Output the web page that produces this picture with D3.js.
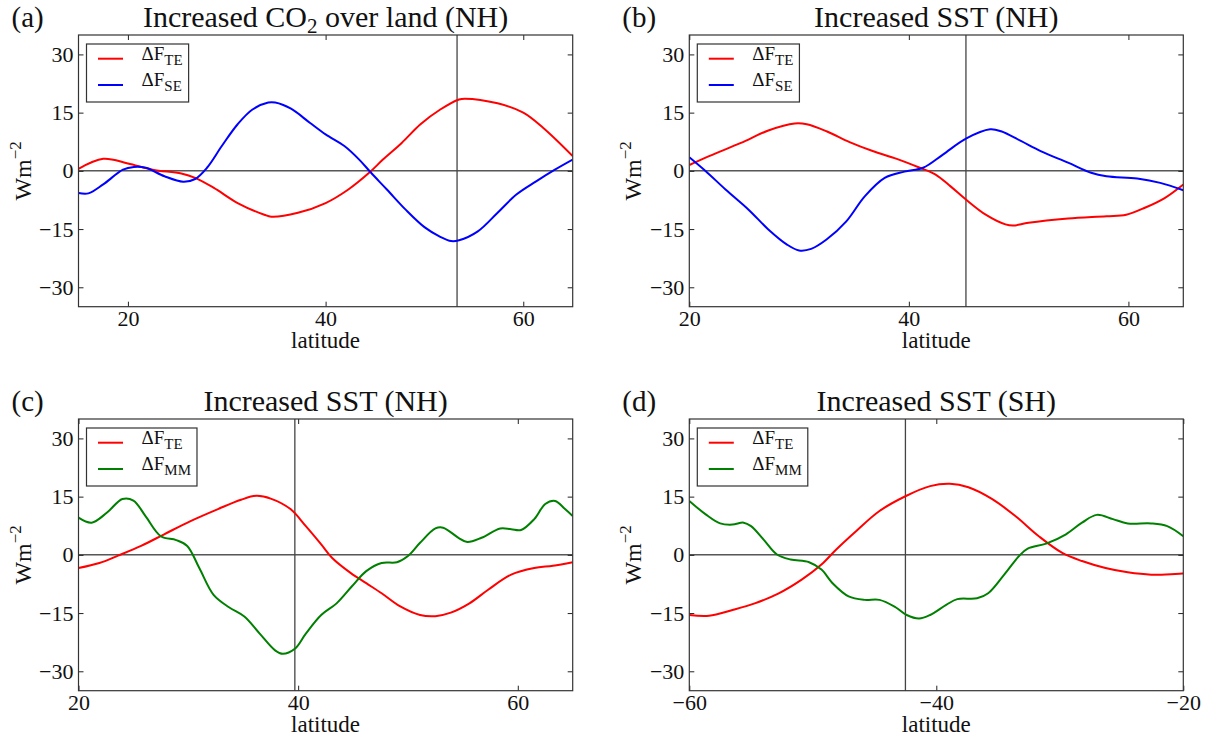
<!DOCTYPE html>
<html>
<head>
<meta charset="utf-8">
<script src="https://cdn.jsdelivr.net/npm/d3@7/dist/d3.min.js"></script>
<style>
  html, body { margin: 0; padding: 0; background: #fff; }
  svg { display: block; }
  svg text { font-family: "Liberation Serif", "DejaVu Serif", serif !important; fill: #111; }
</style>
</head>
<body>
<svg id="chart" width="1211" height="738"></svg>
<script>
// ---- data: [latitude, W m^-2] ----
const aTE = [[15,0.5],[17.5,3.1],[20,1.9],[22.5,0.3],[25.4,-0.7],[26.8,-1.8],[28.7,-4.4],[31.1,-8.3],[33.8,-11.3],[34.5,-11.8],[37.2,-10.8],[40,-8.3],[42.3,-4.8],[44.4,-0.5],[45.8,2.9],[47.7,7.2],[49.6,12],[51.6,15.8],[53.5,18.4],[54.1,18.6],[57.4,17.4],[60,15],[62,11.1],[65,3.8]];
const aSE = [[15,-5.7],[16,-5.8],[17.5,-3.5],[19.5,0.3],[20.6,1],[21.8,0.8],[23.7,-1.4],[25.6,-2.8],[26.8,-2.1],[28,0.8],[29.5,6.4],[31.1,12],[32.6,15.8],[34.2,17.6],[34.9,17.6],[36.5,16],[38.4,12.4],[40,9.4],[41.9,6.4],[43.4,2.9],[44.6,-0.5],[46.2,-4.8],[48.1,-10],[50,-14.5],[51.6,-17],[52.7,-18.1],[53.5,-17.9],[55.4,-15.6],[57.4,-10.8],[59.3,-6.1],[61.3,-2.7],[63.2,0.3],[65,2.9]];

const bTE = [[20,1.5],[21.8,3.8],[24.7,7.2],[27.2,10.4],[29.6,12.2],[30.7,12],[32.5,10.2],[34.6,7.4],[36.7,5.1],[38.9,3.1],[41,0.8],[42.4,-0.9],[43.8,-4],[45.2,-7.4],[47,-11.3],[48.8,-13.8],[49.5,-14.1],[50.9,-13.4],[54.5,-12.3],[58,-11.7],[59.8,-11.3],[61.5,-9.5],[63.3,-7],[65,-3.5]];
const bSE = [[20,3.5],[21.5,-0.1],[23.3,-4.8],[25.4,-10],[27.2,-15.1],[28.9,-19],[30,-20.5],[31.1,-20.1],[32.5,-17.7],[34.3,-13],[36,-6.5],[37.8,-1.8],[39.6,-0.2],[41.3,0.8],[43.1,4.2],[45.2,8.3],[47.4,10.7],[48.4,10.2],[50.2,7.7],[52,5.1],[54.5,2.1],[56.6,-0.5],[58,-1.4],[60.8,-2],[62.9,-3.1],[65,-5]];

const cTE = [[20,-3.4],[21.9,-2.1],[23.6,-0.2],[25.7,2.3],[27.8,5.3],[30.2,8.7],[32.7,11.8],[34.8,14.2],[36.2,15.2],[37.5,14.5],[39.3,11.8],[40.7,7.4],[42.1,2.7],[43.1,-0.8],[44.8,-4.7],[46.2,-7.3],[47.6,-9.9],[49.3,-13.3],[51.1,-15.5],[52.5,-15.8],[53.9,-14.9],[55.6,-12.5],[57.3,-9],[59.4,-5.1],[61.5,-3.4],[63.2,-2.8],[65,-1.9]];
const cMM = [[20,9.6],[21.2,8.3],[22.6,10.9],[24,14.4],[25,14],[26.1,10],[27.5,4.8],[28.9,3.8],[29.9,2.3],[31,-3.4],[32.3,-10.3],[33.7,-13.5],[35.1,-15.9],[36.5,-20.3],[37.9,-24.6],[38.6,-25.5],[39.7,-24.2],[40.7,-20.3],[42.1,-15.5],[43.5,-12.5],[44.9,-8.1],[46.2,-4.2],[47.6,-2.1],[49,-1.9],[50,-0.3],[51.1,3.1],[52.5,6.8],[53.2,7],[54.6,4.4],[55.4,3.3],[56.7,4.4],[58.4,6.8],[59.4,6.6],[60.3,6.4],[61.5,9.2],[62.5,13.1],[63.4,13.9],[64.3,11.8],[65,10]];

const dTE = [[-60,-15.5],[-58.4,-15.7],[-56.5,-14.2],[-54.7,-12.5],[-52.8,-10],[-50.9,-6.4],[-49.3,-2.5],[-48.1,1.4],[-46.5,6.1],[-44.6,11.3],[-42.5,15.1],[-40.5,17.7],[-38.9,18.3],[-37.4,17.4],[-35.5,14.4],[-33.6,10],[-31.7,4.8],[-29.8,0.5],[-28.2,-1.6],[-26.3,-3.4],[-24.5,-4.5],[-22.6,-5.1],[-20,-4.8]];
const dMM = [[-60,13.9],[-58.7,10.5],[-57.5,8.1],[-56.5,7.8],[-55.6,8.3],[-55,7.4],[-54,4],[-52.9,0.1],[-51.8,-1.2],[-50.3,-1.9],[-49.3,-3.8],[-48.4,-7.3],[-47.1,-10.7],[-45.8,-11.6],[-44.6,-11.6],[-43.3,-13.5],[-42.4,-15.5],[-41.4,-16.4],[-40.5,-15.5],[-39.2,-12.9],[-38.3,-11.4],[-36.7,-11.2],[-35.8,-9.9],[-34.5,-5.1],[-33.3,-0.3],[-32.6,1.6],[-31.1,2.9],[-29.5,5.3],[-28.2,8.3],[-27,10.3],[-25.7,9.2],[-24.5,8.1],[-22.6,8.1],[-21.3,7.4],[-20,4.8]];

// reference latitude marked in each panel
const markLat = [53.3, 45.2, 39.7, -42.5];

const panelLetters = ["(a)", "(b)", "(c)", "(d)"];
const xDomains = [[15, 65], [20, 65], [20, 65], [-60, -20]];
const xTicks = [[20, 40, 60], [20, 40, 60], [20, 40, 60], [-60, -40, -20]];
const yTicks = [-30, -15, 0, 15, 30];
const yDomain = [-35, 35];
const seriesNames = [["TE", "SE"], ["TE", "SE"], ["TE", "MM"], ["TE", "MM"]];
const seriesData = [[aTE, aSE], [bTE, bSE], [cTE, cMM], [dTE, dMM]];
const colorOf = { TE: "#ff0000", SE: "#0000ff", MM: "#008000" };

// panel titles: pieces of text, some set as subscripts
const titles = [
  [["Increased CO", null], ["2", "sub"], [" over land (NH)", null]],
  [["Increased SST (NH)", null]],
  [["Increased SST (NH)", null]],
  [["Increased SST (SH)", null]]
];

// ---- layout ----
const cols = [[78.5, 572.7], [689.3, 1183.3]];
const rows = [[35, 306.7], [419, 690.7]];
const SERIF = '"Liberation Serif", "DejaVu Serif", serif';

const svg = d3.select("#chart");
const fmt = d => d < 0 ? "\u2212" + Math.abs(d) : String(d);

for (let p = 0; p < 4; p++) {
  const [x0, x1] = cols[p % 2];
  const [y0, y1] = rows[Math.floor(p / 2)];
  const x = d3.scaleLinear().domain(xDomains[p]).range([x0, x1]);
  const y = d3.scaleLinear().domain(yDomain).range([y1, y0]);
  const g = svg.append("g").style("font-family", SERIF);

  const clipId = "clip" + p;
  svg.append("clipPath").attr("id", clipId)
    .append("rect").attr("x", x0).attr("y", y0).attr("width", x1 - x0).attr("height", y1 - y0);

  // zero line and marker line
  g.append("line").attr("x1", x0).attr("x2", x1).attr("y1", y(0)).attr("y2", y(0))
    .attr("stroke", "#000").attr("stroke-width", 1);
  g.append("line").attr("x1", x(markLat[p])).attr("x2", x(markLat[p])).attr("y1", y0).attr("y2", y1)
    .attr("stroke", "#444").attr("stroke-width", 1.3);

  // data lines
  const line = d3.line().x(d => x(d[0])).y(d => y(d[1])).curve(d3.curveCatmullRom.alpha(0.5));
  seriesNames[p].forEach((name, i) => {
    g.append("path").datum(seriesData[p][i])
      .attr("clip-path", `url(#${clipId})`)
      .attr("d", line).attr("fill", "none")
      .attr("stroke", colorOf[name]).attr("stroke-width", 2);
  });

  // axes with inward ticks on all four sides
  const tl = 5;
  const axB = d3.axisBottom(x).tickValues(xTicks[p]).tickSize(-tl).tickFormat(fmt).tickPadding(4);
  const axT = d3.axisTop(x).tickValues(xTicks[p]).tickSize(-tl).tickFormat("");
  const axL = d3.axisLeft(y).tickValues(yTicks).tickSize(-tl).tickFormat(fmt).tickPadding(5);
  const axR = d3.axisRight(y).tickValues(yTicks).tickSize(-tl).tickFormat("");
  const styleAxis = sel => {
    sel.attr("font-family", null).attr("font-size", null);
    sel.select(".domain").remove();
    sel.selectAll(".tick line").attr("stroke", "#222").attr("stroke-width", 1);
    sel.selectAll(".tick text").style("font-family", SERIF).style("font-size", "22px").attr("fill", "#111");
  };
  g.append("g").attr("transform", `translate(0,${y1})`).call(axB).call(styleAxis);
  g.append("g").attr("transform", `translate(0,${y0})`).call(axT).call(styleAxis);
  g.append("g").attr("transform", `translate(${x0},0)`).call(axL).call(styleAxis);
  g.append("g").attr("transform", `translate(${x1},0)`).call(axR).call(styleAxis);

  // frame
  g.append("rect").attr("x", x0).attr("y", y0).attr("width", x1 - x0).attr("height", y1 - y0)
    .attr("fill", "none").attr("stroke", "#333").attr("stroke-width", 1.2);

  // axis labels
  g.append("text").attr("x", (x0 + x1) / 2).attr("y", y1 + 41)
    .attr("text-anchor", "middle").style("font-size", "23px").text("latitude");
  const yl = g.append("text").attr("transform", `translate(${x0 - 48},${(y0 + y1) / 2}) rotate(-90)`)
    .attr("text-anchor", "middle").style("font-size", "24px");
  yl.append("tspan").text("Wm");
  yl.append("tspan").style("font-size", "17px").attr("dy", -10).text("\u22122");

  // title and panel letter
  const t = g.append("text").attr("x", (x0 + x1) / 2).attr("y", y0 - 8)
    .attr("text-anchor", "middle").style("font-size", "30px");
  let shifted = false;
  titles[p].forEach(([s, kind]) => {
    if (kind === "sub") { t.append("tspan").style("font-size", "21px").attr("dy", 6).text(s); shifted = true; }
    else { t.append("tspan").attr("dy", shifted ? -6 : null).text(s); shifted = false; }
  });
  g.append("text").attr("x", x0 - 67).attr("y", y0 - 8).style("font-size", "29px").text(panelLetters[p]);

  // legend
  const lg = g.append("g");
  const box = lg.append("rect").attr("x", x0 + 8).attr("y", y0 + 9).attr("height", 58)
    .attr("fill", "#fff").attr("stroke", "#333").attr("stroke-width", 1.2);
  let maxRight = 0;
  seriesNames[p].forEach((name, i) => {
    const ly = y0 + 23.7 + i * 26.3;
    lg.append("line").attr("x1", x0 + 19.5).attr("x2", x0 + 44.5).attr("y1", ly).attr("y2", ly)
      .attr("stroke", colorOf[name]).attr("stroke-width", 2);
    const tx = lg.append("text").attr("x", x0 + 63).attr("y", ly + 1).style("font-size", "19px");
    tx.append("tspan").text("\u0394F");
    tx.append("tspan").style("font-size", "15px").attr("dy", 5).text(name);
    maxRight = Math.max(maxRight, x0 + 63 + tx.node().getComputedTextLength());
  });
  box.attr("width", maxRight + 6 - (x0 + 8));
}
</script>
</body>
</html>
